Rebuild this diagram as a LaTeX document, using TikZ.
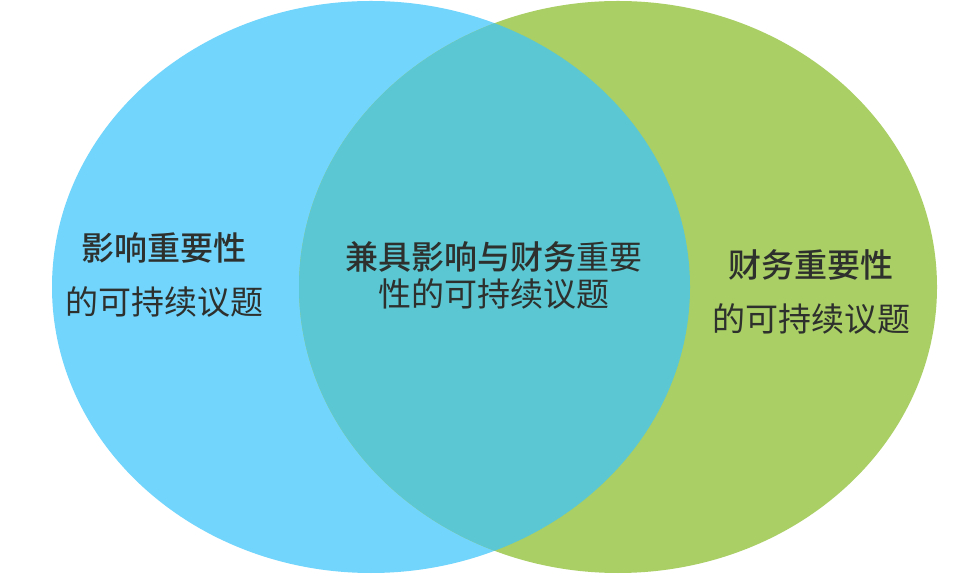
\documentclass[tikz,border=0pt]{standalone}
\usepackage{fontspec}
\setmainfont{Noto Sans CJK SC}[BoldFont={Noto Sans CJK SC Medium}]
\usetikzlibrary{positioning}

\definecolor{impactblue}{RGB}{114,213,252}
\definecolor{financegreen}{RGB}{169,207,101}
\definecolor{bothteal}{RGB}{91,199,210}
\definecolor{labelgray}{RGB}{45,48,45}

\begin{document}
\begin{tikzpicture}[
  x=1pt,y=1pt,
  label/.style={align=center,text=labelgray,inner sep=0pt},
  big/.style={label,font=\fontsize{33}{54}\selectfont},
  tight/.style={label,font=\fontsize{33}{37}\selectfont},
]

% Ellipse centres and radii, in pixels of the 960x575 frame.
\def\LX{371}  \def\RX{618}  \def\CY{288}
\def\RA{319}  \def\RB{286}

\useasboundingbox[fill=white] (0,0) rectangle (960,575);

% ---------------- the two circles and their overlap ----------------
\fill[impactblue]   (\LX,\CY) ellipse [x radius=\RA,y radius=\RB];
\fill[financegreen] (\RX,\CY) ellipse [x radius=\RA,y radius=\RB];
\begin{scope}
  \clip (\LX,\CY) ellipse [x radius=\RA,y radius=\RB];
  \fill[bothteal] (\RX,\CY) ellipse [x radius=\RA,y radius=\RB];
\end{scope}

% ---------------- labels ----------------
\node[big]   (impact)  at (164,300) {\textbf{影响重要性}\\的可持续议题};
\node[tight] (both)    at (494,300) {\textbf{兼具影响与财务}重要\\性的可持续议题};
\node[big]   (finance) at (811,283) {\textbf{财务重要性}\\的可持续议题};

\end{tikzpicture}
\end{document}
